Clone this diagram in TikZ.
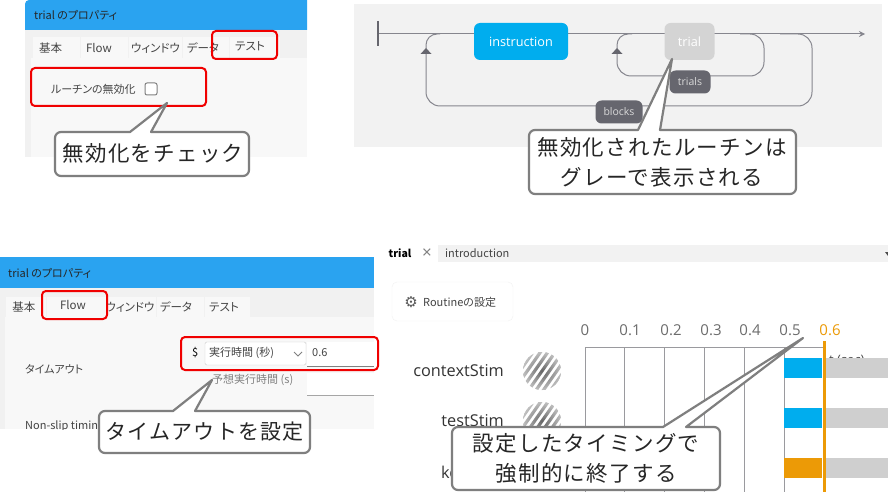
\documentclass[tikz,border=0pt]{standalone}
\usepackage{fontspec}
\setmainfont{Open Sans}
\newfontfamily\jp[RawFeature=+palt]{Noto Sans CJK JP}
\newfontfamily\jpcall[LetterSpace=6]{Noto Sans CJK JP}
\newfontfamily\dejavu{DejaVu Sans}
\usetikzlibrary{arrows.meta,fadings}
\definecolor{winblue}{HTML}{2AA3F0}
\definecolor{winbody}{HTML}{F1F1F1}
\definecolor{winpanel}{HTML}{F8F8F8}
\definecolor{alertred}{HTML}{F00000}
\definecolor{callgray}{HTML}{7F7F7F}
\definecolor{flowbg}{HTML}{F2F2F2}
\definecolor{flowline}{HTML}{86868E}
\definecolor{pill}{HTML}{66666E}
\definecolor{cyanbar}{HTML}{00ADEE}
\definecolor{orangebar}{HTML}{EC9A06}
\definecolor{lightbar}{HTML}{CFCFCF}
\definecolor{gridline}{HTML}{9A9A9E}
\definecolor{uitext}{HTML}{444444}
\tikzfading[name=edgefade,inner color=transparent!100,outer color=transparent!40]
\tikzset{
  ui/.style={inner sep=0pt,text=uitext,font=\jp\fontsize{11}{13}\selectfont},
  tabtext/.style={inner sep=0pt,text=uitext,font=\jp\fontsize{11.5}{13}\selectfont},
  tabbox/.style={fill=winpanel,draw=none},
  redbox/.style={draw=alertred,line width=2pt,rounded corners=4pt},
  calltext/.style={inner sep=0pt,align=center,text=black!85,font=\jpcall\fontsize{21.5}{30}\selectfont},
  callshape/.style={draw=callgray,fill=white,line width=2.2pt,line join=round},
  flownode/.style={rounded corners=6pt,inner sep=0pt,text=white,font=\fontsize{12.7}{15}\selectfont},
  pillnode/.style={fill=pill,rounded corners=6pt,inner sep=0pt,text=white!85!black,font=\fontsize{10.5}{12}\selectfont},
  flowpath/.style={draw=flowline,line width=1pt},
  gridl/.style={draw=gridline,line width=1pt},
  tick/.style={inner sep=0pt,text=gray!85!black,font=\fontsize{15}{17}\selectfont},
  rowname/.style={inner sep=0pt,anchor=east,text=black!80,font=\fontsize{16.3}{19}\selectfont},
}
% x1 y1 x2 y2 tailA tailB tipx tipy
\newcommand{\callbox}[8]{%
  \draw[callshape] (#1+6,#2) -- (#5,#2) -- (#7,#8) -- (#6,#2) -- (#3-6,#2)
    arc[start angle=-90,end angle=0,radius=6] -- (#3,#4-6)
    arc[start angle=0,end angle=90,radius=6] -- (#1+6,#4)
    arc[start angle=90,end angle=180,radius=6] -- (#1,#2+6)
    arc[start angle=180,end angle=270,radius=6] -- cycle;}
\newcommand{\grating}[2]{%
  \begin{scope}
    \clip (#1,#2) circle[radius=19];
    \foreach \k in {-4,...,4}{
      \draw[line width=3.2pt,draw=gray!80!black] (#1+\k*7.4-14,#2+20) -- (#1+\k*7.4+14,#2-20);
    }
    \fill[white,path fading=edgefade] (#1,#2) circle[radius=19.5];
  \end{scope}}
\begin{document}
\begin{tikzpicture}[x=1pt,y=-1pt]
\useasboundingbox (0,0) rectangle (888,492);
\clip (0,0) rectangle (888,492);
\fill[white] (0,0) rectangle (888,492);

% --- top-left window
\fill[winbody] (25,30) rectangle (307,157);
\fill[winblue] (25,30) -- (25,4) arc[start angle=180,end angle=270,radius=4] -- (307,0) -- (307,30) -- cycle;
\node[ui,anchor=west,text=black!85] (t1title) at (34,15) {trial のプロパティ};
\fill[winpanel] (31,58) rectangle (307,157);
\foreach \a/\b in {33/80,81/128,129/182,183/229,230/280}{\fill[tabbox] (\a,37) rectangle (\b,58);}
\node[tabtext] (t1a) at (50.5,48) {基本};
\node[tabtext] (t1b) at (99,48) {Flow};
\node[tabtext] (t1c) at (155.5,48) {ウィンドウ};
\node[tabtext] (t1d) at (203,48) {データ};
\node[tabtext] (t1e) at (250,46) {テスト};
\node[ui,anchor=west] (t1r) at (51,89) {ルーチンの無効化};
\node[draw=gray,line width=1pt,rounded corners=2pt,minimum size=12pt,inner sep=0pt,fill=white] (t1cb) at (151,89) {};
\draw[redbox] (212,31) rectangle (277,59);
\draw[redbox] (31,68) rectangle (206,106);
\callbox{55}{132}{249}{176}{130}{151}{167}{103}
\node[calltext] (c1) at (153,153) {無効化をチェック};

% --- flow panel
\fill[flowbg] (354,4) rectangle (882,147);
\coordinate (fstart) at (379,34);
\coordinate (fend) at (865,34);
\draw[draw=pill,line width=2pt] (378,21) -- (378,46);
\draw[flowpath,-{Stealth[length=6pt,width=6pt]}] (fstart) -- (fend);
\draw[flowpath,rounded corners=11pt] (426,50) -- (426,34) -- (440,34);
\draw[flowpath,rounded corners=14pt] (426,50) -- (426,106) -- (812,106) -- (812,34) -- (780,34);
\draw[flowpath,rounded corners=11pt] (617,50) -- (617,34) -- (632,34);
\draw[flowpath,rounded corners=14pt] (617,50) -- (617,76) -- (764,76) -- (764,34) -- (740,34);
\fill[pill] (426,48) -- (420.5,54) -- (431.5,54) -- cycle;
\fill[pill] (617,48) -- (611.5,54) -- (622.5,54) -- cycle;
\node[flownode,fill=cyanbar,minimum width=94pt,minimum height=37pt] (instr) at (521,41.5) {instruction};
\node[flownode,fill=lightbar!90!white,minimum width=50pt,minimum height=37pt] (trial) at (689.5,41.5) {trial};
\node[pillnode,minimum width=41pt,minimum height=23pt] (trials) at (690,82) {trials};
\node[pillnode,minimum width=47pt,minimum height=23pt] (blocks) at (619,112) {blocks};
\callbox{529}{130}{796}{194}{638}{660}{672}{59}
\node[calltext] (c2) at (662,162) {無効化されたルーチンは\\グレーで表示される};

% --- bottom-left window
\fill[winbody] (0,288) rectangle (374,429);
\fill[winblue] (0,288) -- (0,257) -- (374,257) -- (374,288) -- cycle;
\node[ui,anchor=west,text=black!85] (t2title) at (8,273) {trial のプロパティ};
\fill[winpanel] (5,317) rectangle (374,429);
\foreach \a/\b in {6/46,47/107,108/156,157/204,205/250}{\fill[tabbox] (\a,297) rectangle (\b,317);}
\node[tabtext] (t2a) at (24,307) {基本};
\node[tabtext] (t2b) at (73,305) {Flow};
\node[tabtext] (t2c) at (130,307) {ウィンドウ};
\node[tabtext] (t2d) at (176,307) {データ};
\node[tabtext] (t2e) at (224,307) {テスト};
\node[ui,anchor=west] (t2to) at (25,369) {タイムアウト};
\node[ui,anchor=west,text=black] (t2dollar) at (192,353) {\$};
\node[draw=black!20,fill=white,rounded corners=1.5pt,minimum width=101pt,minimum height=23pt,inner sep=0pt] (t2sel) at (255.5,353.5) {};
\node[ui,anchor=west] (t2ex) at (209,353) {実行時間 (秒)};
\draw[draw=gray,line width=.8pt] (294,352) -- (298,356) -- (302,352);
\fill[white] (307,342) rectangle (374,366);
\draw[draw=gray,line width=.8pt] (307,366) -- (374,366);
\node[ui,anchor=west] (t2v) at (312,353) {0.6};
\node[ui,anchor=west,text=gray] (t2ex2) at (212,380) {予想実行時間 (s)};
\fill[white] (307,373) rectangle (374,395);
\draw[draw=gray!70,line width=.8pt] (307,395) -- (374,395);
\begin{scope}
  \clip (0,380) rectangle (374,429);
  \node[ui,anchor=west] (t2ns) at (25,426) {Non-slip timing};
\end{scope}
\draw[redbox] (42,291) rectangle (107,319);
\draw[redbox] (181,337) rectangle (378,370);
\callbox{99}{411}{310}{453}{173}{195}{212}{380}
\node[calltext,font=\jpcall\fontsize{21}{24}\selectfont] (c3) at (204.5,432) {タイムアウトを設定};

% --- bottom-right editor
\node[ui,text=black,font=\jp\bfseries\fontsize{10.5}{12}\selectfont] (rtrial) at (400,253) {trial};
\node[inner sep=0pt,text=gray,font=\fontsize{17}{18}\selectfont] (rx) at (427,253.5) {×};
\fill[flowbg] (438,245) rectangle (888,262);
\node[ui,anchor=west] (rintro) at (445,253) {introduction};
\fill[black!70] (885,252) -- (888,252) -- (888,256) -- cycle;
\node[draw=black!5,fill=white,rounded corners=5pt,minimum width=121pt,minimum height=39pt,inner sep=0pt] (rbtn) at (452.5,301.5) {};
\node[inner sep=0pt,text=black!65,font=\dejavu\fontsize{15}{16}\selectfont] (rgear) at (411,302) {⚙};
\node[ui,anchor=west] (rbtxt) at (423,302) {Routineの設定};

\node[tick] (l0) at (585,330) {0};
\node[tick] (l1) at (630,330) {0.1};
\node[tick] (l2) at (671,330) {0.2};
\node[tick] (l3) at (711,330) {0.3};
\node[tick] (l4) at (750,330) {0.4};
\node[tick] (l5) at (790,330) {0.5};
\node[tick,text=orangebar] (l6) at (830,330) {0.6};
\foreach \x in {585,624,664,704,744,784}{\draw[gridl] (\x,347) -- (\x,492);}
\draw[gridl] (585,347) -- (823,347);
\node[inner sep=0pt,anchor=west,text=black!70,font=\fontsize{13}{15}\selectfont] (rsec) at (829,361) {t (sec)};
\foreach \y in {358,408,458}{\fill[lightbar] (824,\y) rectangle (888,\y+20);}
\fill[cyanbar] (784,358) rectangle (822,378);
\fill[cyanbar] (784,408) rectangle (822,428);
\fill[orangebar] (784,458) rectangle (822,478);
\draw[draw=orangebar,line width=3pt] (824,341) -- (824,492);
\node[rowname] (rc) at (504,371) {contextStim};
\node[rowname] (rt) at (504,421) {testStim};
\node[rowname,anchor=west] (rk) at (441,472) {ke};
\grating{542}{371}
\grating{542}{421}
\callbox{452}{427}{720}{490}{663}{686}{803}{338}
\node[calltext] (c4) at (586,458.5) {設定したタイミングで\\強制的に終了する};
\end{tikzpicture}
\end{document}
